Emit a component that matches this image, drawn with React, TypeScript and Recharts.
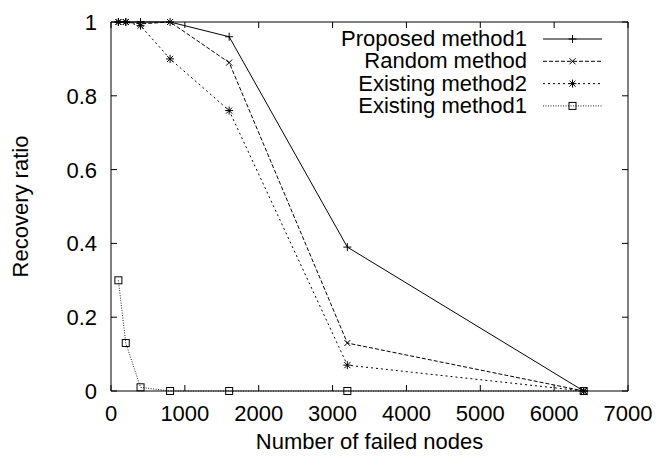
import React from "react";
import { LineChart, Line, XAxis, YAxis, ReferenceLine } from "recharts";

const failedNodes = [100, 200, 400, 800, 1600, 3200, 6400];
const proposedMethod1 = [1, 1, 1, 1, 0.96, 0.39, 0];
const randomMethod = [1, 1, 0.995, 1, 0.89, 0.13, 0];
const existingMethod2 = [1, 1, 0.99, 0.9, 0.76, 0.07, 0];
const existingMethod1 = [0.3, 0.13, 0.01, 0, 0, 0, 0];

const xTicks = [0, 1000, 2000, 3000, 4000, 5000, 6000, 7000];
const yTicks = [0, 0.2, 0.4, 0.6, 0.8, 1];
const yTickLabels = ["0", "0.2", "0.4", "0.6", "0.8", "1"];

const seriesNames = ["Proposed method1", "Random method", "Existing method2", "Existing method1"];
const seriesKeys = ["proposed", "random", "existing2", "existing1"];
const seriesValues = [proposedMethod1, randomMethod, existingMethod2, existingMethod1];

const xTitle = "Number of failed nodes";
const yTitle = "Recovery ratio";

const data = failedNodes.map((x, i) => {
  const row: any = { x };
  seriesKeys.forEach((k, j) => {
    row[k] = seriesValues[j][i];
  });
  return row;
});

const W = 656;
const H = 458;
const MARGIN = { top: 22, right: 28, bottom: 0, left: 0 };
const Y_AXIS_W = 111;
const X_AXIS_H = 67;
const PLOT_TOP = MARGIN.top;
const PLOT_LEFT = Y_AXIS_W;
const PLOT_RIGHT = W - MARGIN.right;
const PLOT_BOTTOM = H - X_AXIS_H;
const FONT = "'Liberation Sans', Arial, Helvetica, sans-serif";
const FS = 22;
const TICK = 6;

const styles = [
  { dash: undefined, stroke: "#000", shape: "plus" },
  { dash: "4 2", stroke: "#000", shape: "cross" },
  { dash: "2 3", stroke: "#000", shape: "star" },
  { dash: "1 1.5", stroke: "#222", shape: "square" },
];

function Marker({ shape, cx, cy }: { shape: string; cx: number; cy: number }) {
  const s = 4;
  const d = 3;
  if (shape === "plus") {
    return (
      <g stroke="#000" strokeWidth={1}>
        <line x1={cx - s} x2={cx + s} y1={cy} y2={cy} />
        <line x1={cx} x2={cx} y1={cy - s} y2={cy + s} />
      </g>
    );
  }
  if (shape === "cross") {
    return (
      <g stroke="#000" strokeWidth={1}>
        <line x1={cx - d} x2={cx + d} y1={cy - d} y2={cy + d} />
        <line x1={cx - d} x2={cx + d} y1={cy + d} y2={cy - d} />
      </g>
    );
  }
  if (shape === "star") {
    return (
      <g stroke="#000" strokeWidth={1}>
        <line x1={cx - s} x2={cx + s} y1={cy} y2={cy} />
        <line x1={cx} x2={cx} y1={cy - s} y2={cy + s} />
        <line x1={cx - d} x2={cx + d} y1={cy - d} y2={cy + d} />
        <line x1={cx - d} x2={cx + d} y1={cy + d} y2={cy - d} />
      </g>
    );
  }
  return <rect x={cx - 3.5} y={cy - 3.5} width={7} height={7} fill="none" stroke="#000" strokeWidth={1} />;
}

function XTick(props: any) {
  const { x, payload } = props;
  return (
    <g>
      <line x1={x} x2={x} y1={PLOT_BOTTOM} y2={PLOT_BOTTOM - TICK} stroke="#000" />
      <line x1={x} x2={x} y1={PLOT_TOP} y2={PLOT_TOP + TICK} stroke="#000" />
      <text x={x} y={PLOT_BOTTOM + 30} textAnchor="middle" fontFamily={FONT} fontSize={FS} fill="#000">
        {String(payload.value)}
      </text>
    </g>
  );
}

function YTick(props: any) {
  const { y, payload } = props;
  const idx = yTicks.indexOf(payload.value);
  const label = idx >= 0 ? yTickLabels[idx] : String(payload.value);
  return (
    <g>
      <line x1={PLOT_LEFT} x2={PLOT_LEFT + TICK} y1={y} y2={y} stroke="#000" />
      <line x1={PLOT_RIGHT} x2={PLOT_RIGHT - TICK} y1={y} y2={y} stroke="#000" />
      <text x={PLOT_LEFT - 14} y={y + 8} textAnchor="end" fontFamily={FONT} fontSize={FS} fill="#000">
        {label}
      </text>
    </g>
  );
}

function YTitle(props: any) {
  const vb = props.viewBox || { y: PLOT_TOP, height: PLOT_BOTTOM - PLOT_TOP };
  const cx = 28;
  const cy = vb.y + vb.height / 2;
  return (
    <text
      x={cx}
      y={cy}
      transform={`rotate(-90, ${cx}, ${cy})`}
      textAnchor="middle"
      fontFamily={FONT}
      fontSize={FS}
      fill="#000"
    >
      {yTitle}
    </text>
  );
}

function XTitle(props: any) {
  const vb = props.viewBox || { x: PLOT_LEFT, width: PLOT_RIGHT - PLOT_LEFT };
  const cx = vb.x + vb.width / 2;
  return (
    <text x={cx} y={PLOT_BOTTOM + 58} textAnchor="middle" fontFamily={FONT} fontSize={FS} fill="#000">
      {xTitle}
    </text>
  );
}

function LegendOverlay() {
  const textRight = 527;
  const lx1 = 543;
  const lx2 = 602;
  const top = 39;
  const step = 22.3;
  return (
    <svg
      width={W}
      height={140}
      style={{ position: "absolute", left: 0, top: 0, pointerEvents: "none" }}
    >
      {seriesNames.map((name, i) => {
        const y = top + i * step;
        const st = styles[i];
        return (
          <g key={name}>
            <text x={textRight} y={y + 7} textAnchor="end" fontFamily={FONT} fontSize={FS} fill="#000">
              {name}
            </text>
            <line x1={lx1} x2={lx2} y1={y} y2={y} stroke={st.stroke} strokeDasharray={st.dash} strokeWidth={1} />
            <Marker shape={st.shape} cx={(lx1 + lx2) / 2} cy={y} />
          </g>
        );
      })}
    </svg>
  );
}

export default function App() {
  return (
    <div style={{ position: "absolute", left: 0, top: 0, width: W, height: H, background: "#fff" }}>
      <LineChart width={W} height={H} data={data} margin={MARGIN}>
        <XAxis
          dataKey="x"
          type="number"
          domain={[0, 7000]}
          ticks={xTicks}
          height={X_AXIS_H}
          tickSize={0}
          tickMargin={0}
          tickLine={false}
          tick={<XTick />}
          axisLine={{ stroke: "#000" }}
          interval={0}
          label={(p: any) => <XTitle {...p} />}
        />
        <YAxis
          type="number"
          domain={[0, 1]}
          ticks={yTicks}
          width={Y_AXIS_W}
          tickSize={0}
          tickMargin={0}
          tickLine={false}
          tick={<YTick />}
          axisLine={{ stroke: "#000" }}
          interval={0}
          label={(p: any) => <YTitle {...p} />}
        />
        <ReferenceLine y={1} stroke="#000" />
        <ReferenceLine x={7000} stroke="#000" />
        {seriesKeys.map((k, i) => (
          <Line
            key={k}
            dataKey={k}
            name={seriesNames[i]}
            type="linear"
            stroke={styles[i].stroke}
            strokeWidth={1}
            strokeDasharray={styles[i].dash}
            isAnimationActive={false}
            dot={(p: any) => <Marker key={`${k}-${p.index}`} shape={styles[i].shape} cx={p.cx} cy={p.cy} />}
            activeDot={false}
          />
        ))}
      </LineChart>
      <LegendOverlay />
    </div>
  );
}
